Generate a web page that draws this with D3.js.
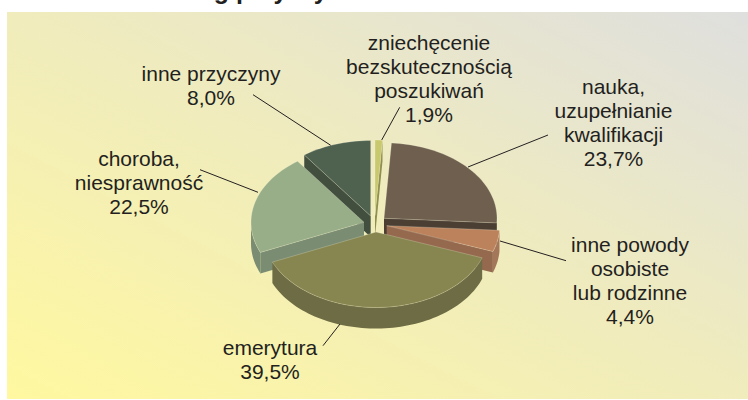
<!DOCTYPE html>
<html>
<head>
<meta charset="utf-8">
<script src="https://cdn.jsdelivr.net/npm/d3@7"></script>
<style>
  html, body { margin: 0; padding: 0; background: #fff; }
  svg { display: block; }
  text { font-family: "Liberation Sans", Arial, sans-serif; fill: #231f20; }
</style>
</head>
<body>
<div id="chart"></div>
<script>
const width = 748;
const height = 400;

// values in the order they run clockwise from 12 o'clock
const categories = [
  "zniechęcenie bezskutecznością poszukiwań",
  "nauka, uzupełnianie kwalifikacji",
  "inne powody osobiste lub rodzinne",
  "emerytura",
  "choroba, niesprawność",
  "inne przyczyny"
];
const shares = [1.9, 23.7, 4.4, 39.5, 22.5, 8.0];
const labelLines = [
  ["zniechęcenie", "bezskutecznością", "poszukiwań"],
  ["nauka,", "uzupełnianie", "kwalifikacji"],
  ["inne powody", "osobiste", "lub rodzinne"],
  ["emerytura"],
  ["choroba,", "niesprawność"],
  ["inne przyczyny"]
];

const faceColors = ["#c8c86f", "#6e5f4f", "#bb825c", "#878650", "#98ae88", "#4f6250"];
const wallColors = ["#8f8f4f", "#4b3f34", "#94694e", "#6e6c44", "#7a8c72", "#424f3f"];
const rimColors = ["#8f8f4f", "#4b3f34", "#a5775a", "#6e6c44", "#7a8c72", "#424f3f"];

// where each exploded slice sits, label anchors and leader lines
const sliceCentres = [[375, 215.5], [384, 218.3], [386.7, 225.7], [376, 232], [364, 222.3], [370.7, 216]];
const labelAnchors = [[429, 50], [613.5, 94], [630, 252], [270, 355], [139, 166], [211, 81]];
const leaders = [
  [[399.7, 107.3], [381.7, 140]],
  [[548, 135], [468, 167]],
  [[566, 260.7], [500, 241]],
  [[340, 324], [323, 345.7]],
  [[200, 169.7], [258, 192.3]],
  [[253, 94.7], [330.7, 145.3]]
];
const drawOrder = [5, 0, 1, 4, 2, 3];

const rx = 113;
const ry = 75.5;
const depth = 21;
const lineHeight = 24;

// the 3D view in the original squeezes some angles, this maps true angle to seen angle
const viewAngle = d3.scaleLinear()
  .domain([0, 6.84, 92.16, 108, 250.2, 331.2, 360])
  .range([0, 3.8, 93.5, 110, 246.5, 324, 360]);

const svg = d3.select("#chart")
  .append("svg")
  .attr("width", width)
  .attr("height", height);

const grad = svg.append("defs").append("linearGradient")
  .attr("id", "panelFill")
  .attr("x1", 0).attr("y1", 1)
  .attr("x2", 1).attr("y2", 0);
grad.append("stop").attr("offset", "0%").attr("stop-color", "#fff8a0");
grad.append("stop").attr("offset", "50%").attr("stop-color", "#f0ecbc");
grad.append("stop").attr("offset", "100%").attr("stop-color", "#dfdfde");

svg.append("rect")
  .attr("x", 7)
  .attr("y", 12)
  .attr("width", width - 7)
  .attr("height", height - 13)
  .attr("fill", "url(#panelFill)");

// title is cut by the top of the image in the reference
svg.append("text")
  .attr("x", 343)
  .attr("y", -1.5)
  .attr("text-anchor", "end")
  .attr("font-size", 25)
  .attr("font-weight", "bold")
  .text("według przyczyn");

const pieData = d3.pie().sort(null)(shares);
const toDeg = 180 / Math.PI;
const line = d3.line();

function project(c, deg, drop) {
  const a = deg / toDeg;
  return [c[0] + rx * Math.sin(a), c[1] - ry * Math.cos(a) + drop];
}

function arcPoints(c, from, to, drop) {
  const n = Math.max(2, Math.ceil(Math.abs(to - from) / 2));
  return d3.range(n + 1).map(i => project(c, from + (to - from) * i / n, drop));
}

function edgeWall(c, deg) {
  const tip = project(c, deg, 0);
  return [c, tip, [tip[0], tip[1] + depth], [c[0], c[1] + depth]];
}

const slices = svg.append("g")
  .selectAll("g")
  .data(drawOrder)
  .join("g");

slices.each(function (i) {
  const g = d3.select(this);
  const c = sliceCentres[i];
  const start = viewAngle(pieData[i].startAngle * toDeg);
  const end = viewAngle(pieData[i].endAngle * toDeg);

  // only the sides that face the viewer
  if (start > 180 && start < 360) {
    g.append("path").attr("d", line(edgeWall(c, start)) + "Z").attr("fill", wallColors[i]);
  }
  if (end > 0 && end < 180) {
    g.append("path").attr("d", line(edgeWall(c, end)) + "Z").attr("fill", wallColors[i]);
  }
  const rimFrom = Math.max(start, 90);
  const rimTo = Math.min(end, 270);
  if (rimTo > rimFrom) {
    const top = arcPoints(c, rimFrom, rimTo, 0);
    const bottom = arcPoints(c, rimTo, rimFrom, depth);
    g.append("path").attr("d", line(top.concat(bottom)) + "Z").attr("fill", rimColors[i]);
  }

  g.append("path")
    .attr("d", line([c].concat(arcPoints(c, start, end, 0))) + "Z")
    .attr("fill", faceColors[i])
    .attr("stroke", "#fffbe0")
    .attr("stroke-opacity", 0.3)
    .attr("stroke-width", 0.8)
    .attr("stroke-linejoin", "round");
});

svg.append("g")
  .selectAll("line")
  .data(leaders)
  .join("line")
  .attr("x1", d => d[0][0])
  .attr("y1", d => d[0][1])
  .attr("x2", d => d[1][0])
  .attr("y2", d => d[1][1])
  .attr("stroke", "#231f20")
  .attr("stroke-width", 1);

const pct = v => v.toFixed(1).replace(".", ",") + "%";

const labels = svg.append("g")
  .selectAll("text")
  .data(categories)
  .join("text")
  .attr("text-anchor", "middle")
  .attr("font-size", 21);

labels.each(function (name, i) {
  d3.select(this).selectAll("tspan")
    .data(labelLines[i].concat(pct(shares[i])))
    .join("tspan")
    .attr("x", labelAnchors[i][0])
    .attr("y", (d, k) => labelAnchors[i][1] + k * lineHeight)
    .text(d => d);
});
</script>
</body>
</html>
